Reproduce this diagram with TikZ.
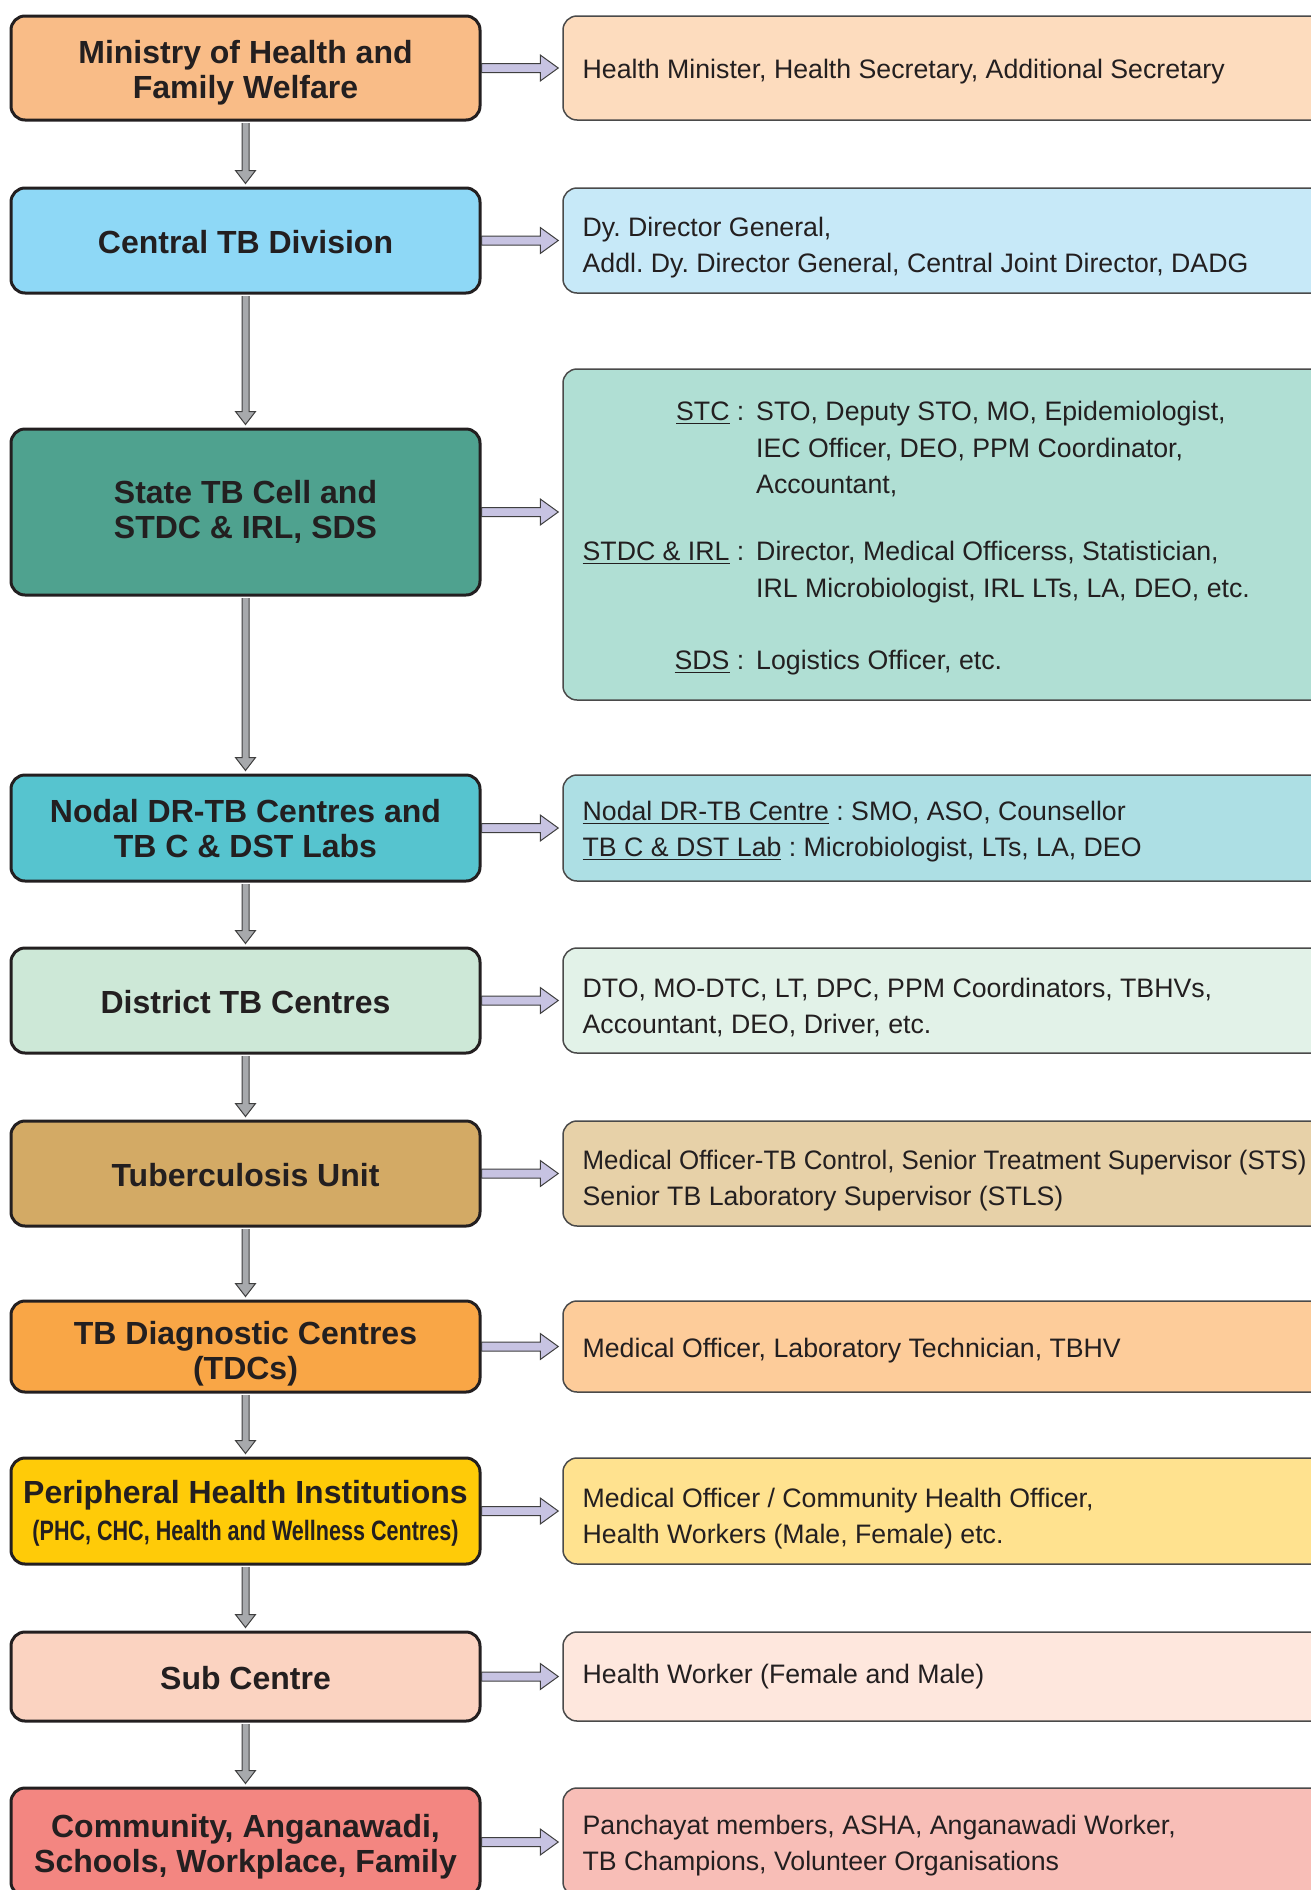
\documentclass[tikz,border=0pt]{standalone}
\usepackage{fontspec}
\usepackage{graphicx}
\setmainfont{Liberation Sans}
\usetikzlibrary{calc}
\frenchspacing
\definecolor{ink}{HTML}{231F20}
\definecolor{rline}{HTML}{4A4A4A}
\definecolor{lav}{HTML}{C7C3E2}
\definecolor{arrline}{HTML}{3F3F3F}
\definecolor{grayA}{HTML}{A7A9AC}
\definecolor{cAL}{HTML}{F9BC87}\definecolor{cAR}{HTML}{FDDCBE}
\definecolor{cBL}{HTML}{8ED8F6}\definecolor{cBR}{HTML}{C7E9F8}
\definecolor{cCL}{HTML}{4FA28F}\definecolor{cCR}{HTML}{B0DFD4}
\definecolor{cDL}{HTML}{56C4CF}\definecolor{cDR}{HTML}{ADDFE4}
\definecolor{cEL}{HTML}{CDE8D7}\definecolor{cER}{HTML}{E2F2E8}
\definecolor{cFL}{HTML}{D3AA65}\definecolor{cFR}{HTML}{E7D1A8}
\definecolor{cGL}{HTML}{F9A646}\definecolor{cGR}{HTML}{FDCC9A}
\definecolor{cHL}{HTML}{FFCB08}\definecolor{cHR}{HTML}{FFE28F}
\definecolor{cIL}{HTML}{FBD3C1}\definecolor{cIR}{HTML}{FEE7DD}
\definecolor{cJL}{HTML}{F38681}\definecolor{cJR}{HTML}{F8BEB7}
\tikzset{
  lbox/.style={draw=ink, line width=1.5pt, rounded corners=7pt, minimum width=234.5pt, inner sep=0pt},
  rbox/.style={draw=rline, line width=0.75pt, rounded corners=7pt, minimum width=520pt, inner sep=0pt},
  ltxt/.style={inner sep=0pt, align=center, font=\fontsize{16}{17.5}\selectfont\bfseries, text=ink},
  rtxt/.style={inner sep=0pt, align=left, anchor=west, font=\fontsize{13.35}{18}\selectfont, text=ink},
  hfat/.style={fill=lav, draw=arrline, line width=0.5pt, line join=miter},
  vfat/.style={fill=grayA, draw=arrline, line width=0.5pt, line join=miter},
}
\newcommand\ltext[3]{\node[ltxt] (t#1) at ([yshift=-#2]#1.center) {#3};}
\newcommand\rtext[3]{\node[rtxt] (t#1) at ([xshift=10pt,yshift=-#2]#1.west) {#3};}
\newcommand\harr[2]{\draw[hfat] let \p1=(#1.east), \p2=(#2.west) in
  (\x1,\y1+2.25pt) -- (\x2-11pt,\y1+2.25pt) -- (\x2-11pt,\y1+6.5pt) -- (\x2-2pt,\y1)
  -- (\x2-11pt,\y1-6.5pt) -- (\x2-11pt,\y1-2.25pt) -- (\x1,\y1-2.25pt) -- cycle;}
\newcommand\varr[2]{\draw[vfat] let \p1=(#1.south), \p2=(#2.north) in
  (\x1-1.75pt,\y1-0.75pt) -- (\x1-1.75pt,\y2+8pt) -- (\x1-5pt,\y2+8pt) -- (\x1,\y2+1.5pt)
  -- (\x1+5pt,\y2+8pt) -- (\x1+1.75pt,\y2+8pt) -- (\x1+1.75pt,\y1-0.75pt);}
\begin{document}
\begin{tikzpicture}[x=0.5pt,y=-0.5pt]
\useasboundingbox (0,0) rectangle (1311,1890);
% left column boxes
\node[lbox, fill=cAL, minimum height=52pt]   (L1)  at (245.5,68)    {};
\node[lbox, fill=cBL, minimum height=52.5pt] (L2)  at (245.5,240.5) {};
\node[lbox, fill=cCL, minimum height=83pt]   (L3)  at (245.5,512)   {};
\node[lbox, fill=cDL, minimum height=53pt]   (L4)  at (245.5,828)   {};
\node[lbox, fill=cEL, minimum height=52.5pt] (L5)  at (245.5,1000.5){};
\node[lbox, fill=cFL, minimum height=52.5pt] (L6)  at (245.5,1173.5){};
\node[lbox, fill=cGL, minimum height=45.5pt] (L7)  at (245.5,1346.5){};
\node[lbox, fill=cHL, minimum height=53pt]   (L8)  at (245.5,1511)  {};
\node[lbox, fill=cIL, minimum height=44.5pt] (L9)  at (245.5,1676.5){};
\node[lbox, fill=cJL, minimum height=54pt]   (L10) at (245.5,1842)  {};
% right column boxes
\node[rbox, fill=cAR, minimum height=52pt]    (R1)  at (1083,68)    {};
\node[rbox, fill=cBR, minimum height=52.5pt]  (R2)  at (1083,240.5) {};
\node[rbox, fill=cCR, minimum height=165.5pt] (R3)  at (1083,534.5) {};
\node[rbox, fill=cDR, minimum height=53pt]    (R4)  at (1083,828)   {};
\node[rbox, fill=cER, minimum height=52.5pt]  (R5)  at (1083,1000.5){};
\node[rbox, fill=cFR, minimum height=52.5pt]  (R6)  at (1083,1173.5){};
\node[rbox, fill=cGR, minimum height=45.5pt]  (R7)  at (1083,1346.5){};
\node[rbox, fill=cHR, minimum height=53pt]    (R8)  at (1083,1511)  {};
\node[rbox, fill=cIR, minimum height=44.5pt]  (R9)  at (1083,1676.5){};
\node[rbox, fill=cJR, minimum height=54pt]    (R10) at (1083,1842)  {};
% left texts
\ltext{L1}{2.5pt}{Ministry of Health and\\Family Welfare}
\ltext{L2}{1pt}{Central TB Division}
\ltext{L3}{0pt}{State TB Cell and\\STDC \& IRL, SDS}
\ltext{L4}{0.5pt}{Nodal DR-TB Centres and\\TB C \& DST Labs}
\ltext{L5}{1pt}{District TB Centres}
\ltext{L6}{1pt}{Tuberculosis Unit}
\ltext{L7}{3.5pt}{TB Diagnostic Centres\\(TDCs)}
\ltext{L8}{1pt}{Peripheral Health Institutions\\[1pt]\scalebox{0.77}[1]{\fontsize{14}{16}\selectfont(PHC, CHC, Health and Wellness Centres)}}
\ltext{L9}{1pt}{Sub Centre}
\ltext{L10}{2.5pt}{Community, Anganawadi,\\Schools, Workplace, Family}
% right texts
\rtext{R1}{1.8pt}{Health Minister, Health Secretary, Additional Secretary}
\rtext{R2}{3.5pt}{Dy. Director General,\\Addl. Dy. Director General, Central Joint Director, DADG}
\rtext{R3}{1.5pt}{\fontsize{13.35}{18.35}\selectfont%
  \begin{tabular}{@{}r@{\ }c@{\ \,}l@{}}
  \underline{STC} & : & STO, Deputy STO, MO, Epidemiologist,\\
   & & IEC Officer, DEO, PPM Coordinator,\\
   & & Accountant,\\[15pt]
  \underline{STDC \& IRL} & : & Director, Medical Officerss, Statistician,\\
   & & IRL Microbiologist, IRL LTs, LA, DEO, etc.\\[17.5pt]
  \underline{SDS} & : & Logistics Officer, etc.
  \end{tabular}}
\rtext{R4}{1.8pt}{\underline{Nodal DR-TB Centre} : SMO, ASO, Counsellor\\\underline{TB C \& DST Lab} : Microbiologist, LTs, LA, DEO}
\rtext{R5}{3.5pt}{DTO, MO-DTC, LT, DPC, PPM Coordinators, TBHVs,\\Accountant, DEO, Driver, etc.}
\rtext{R6}{3.5pt}{\scalebox{0.97}[1]{Medical Officer-TB Control, Senior Treatment Supervisor (STS)}\\Senior TB Laboratory Supervisor (STLS)}
\rtext{R7}{1.8pt}{Medical Officer, Laboratory Technician, TBHV}
\rtext{R8}{4pt}{Medical Officer / Community Health Officer,\\Health Workers (Male, Female) etc.}
\rtext{R9}{0pt}{Health Worker (Female and Male)}
\rtext{R10}{1.8pt}{Panchayat members, ASHA, Anganawadi Worker,\\TB Champions, Volunteer Organisations}
% horizontal arrows
\harr{L1}{R1}\harr{L2}{R2}\harr{L3}{R3}\harr{L4}{R4}\harr{L5}{R5}
\harr{L6}{R6}\harr{L7}{R7}\harr{L8}{R8}\harr{L9}{R9}\harr{L10}{R10}
% vertical arrows
\varr{L1}{L2}\varr{L2}{L3}\varr{L3}{L4}\varr{L4}{L5}\varr{L5}{L6}
\varr{L6}{L7}\varr{L7}{L8}\varr{L8}{L9}\varr{L9}{L10}
\end{tikzpicture}
\end{document}
